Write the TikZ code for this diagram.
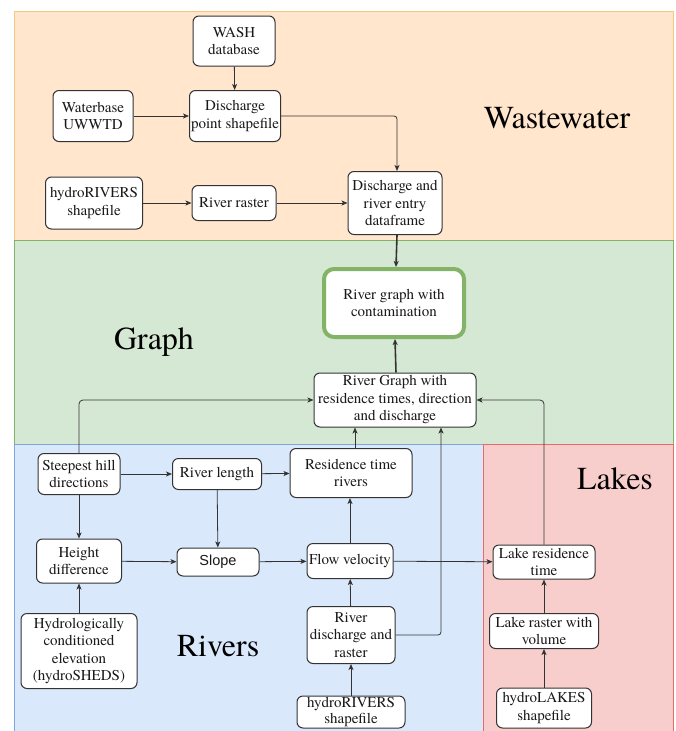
\documentclass[tikz,border=0pt]{standalone}
\usepackage{fontspec}
\setmainfont{texgyretermes}[Extension=.otf, UprightFont=*-regular, BoldFont=*-bold, ItalicFont=*-italic, BoldItalicFont=*-bolditalic]
\newfontfamily\arialfont{Liberation Sans}
\usetikzlibrary{arrows.meta}
\definecolor{wwfill}{HTML}{FFE6CC}
\definecolor{wwdraw}{HTML}{F5C77E}
\definecolor{grfill}{HTML}{D5E8D4}
\definecolor{grdraw}{HTML}{82B366}
\definecolor{rvfill}{HTML}{DAE8FC}
\definecolor{rvdraw}{HTML}{7EA6E0}
\definecolor{lkfill}{HTML}{F8CECC}
\definecolor{lkdraw}{HTML}{EA6B66}
\definecolor{linecol}{HTML}{333333}
\begin{document}
\begin{tikzpicture}[
	x=1pt, y=-1pt,
	box/.style={shape=rectangle, rounded corners=6pt, fill=white, draw=linecol, line width=1pt, align=center, inner sep=1pt, font=\fontsize{15}{17.5}\selectfont, text=black!90},
	bigbox/.style={box, draw=grdraw, line width=4pt, rounded corners=10pt},
	panel/.style={line width=0.8pt},
	biglabel/.style={anchor=base, font=\fontsize{32}{36}\selectfont},
	arr/.style={draw=linecol, line width=0.8pt, -{Stealth[length=6pt,width=5pt,inset=1.5pt]}},
	thickarr/.style={arr, line width=1.6pt},
]
\useasboundingbox (0,0) rectangle (676,731);
\fill[white] (0,0) rectangle (676,731);
\draw[panel, fill=wwfill, draw=wwdraw] (14,11) rectangle (673,240);
\draw[panel, fill=grfill, draw=grdraw] (14,240) rectangle (673,444);
\draw[panel, fill=rvfill, draw=rvdraw] (14,444) rectangle (483,735);
\draw[panel, fill=lkfill, draw=lkdraw] (483,444) rectangle (673,735);

\node[biglabel] (wwlabel) at (557,128) {Wastewater};
\node[biglabel] (grlabel) at (154,349) {Graph};
\node[biglabel] (lklabel) at (615,489) {Lakes};
\node[biglabel] (rvlabel) at (218,656) {Rivers};

\node[box, minimum width=82, minimum height=50] (wash) at (234,41) {WASH\\database};
\node[box, minimum width=80, minimum height=51] (waterbase) at (93,116) {Waterbase\\UWWTD};
\node[box, minimum width=91, minimum height=51] (dpoint) at (235,116) {Discharge\\point shapefile};
\node[box, minimum width=97, minimum height=52] (hrivtop) at (94,203) {hydroRIVERS\\shapefile};
\node[box, minimum width=84, minimum height=35] (rraster) at (234,203) {River raster};
\node[box, minimum width=94, minimum height=63] (dframe) at (395,203) {Discharge and\\river entry\\dataframe};
\node[bigbox, minimum width=140, minimum height=68] (contam) at (394,303) {River graph with\\contamination};
\node[box, minimum width=162, minimum height=54] (rgraph) at (395,400) {River Graph with\\residence times, direction\\and discharge};

\node[box, minimum width=82, minimum height=41] (steep) at (79,474) {Steepest hill\\directions};
\node[box, minimum width=89, minimum height=31] (rlength) at (217,474) {River length};
\node[box, minimum width=122, minimum height=49] (restime) at (351,473) {Residence time\\rivers};
\node[box, minimum width=85, minimum height=44] (height) at (79,561) {Height\\difference};
\node[box, minimum width=82, minimum height=28, font=\arialfont\fontsize{14.5}{17}\selectfont] (slope) at (218,562) {Slope};
\node[box, minimum width=86, minimum height=35] (flowv) at (350,561) {Flow velocity};
\node[box, minimum width=116, minimum height=75] (hydrocond) at (79,651) {Hydrologically\\conditioned\\elevation\\(hydroSHEDS)};
\node[box, minimum width=88, minimum height=57] (rdis) at (351,635) {River\\discharge and\\raster};
\node[box, minimum width=108, minimum height=32, font=\fontsize{15}{15.5}\selectfont] (hrivbot) at (351,712) {hydroRIVERS\\shapefile};
\node[box, minimum width=102, minimum height=34] (lakeres) at (544,562) {Lake residence\\time};
\node[box, minimum width=109, minimum height=35] (lakeraster) at (544,631) {Lake raster with\\volume};
\node[box, minimum width=95, minimum height=40] (hlakes) at (544,708) {hydroLAKES\\shapefile};

\draw[arr] (wash) -- (dpoint);
\draw[arr] (waterbase) -- (dpoint);
\draw[arr, rounded corners=3pt] (dpoint.east) -| ([xshift=2pt]dframe.north);
\draw[arr] (hrivtop) -- (rraster);
\draw[arr] (rraster) -- (dframe);
\draw[thickarr] ([xshift=2pt]dframe.south) -- ([xshift=2pt]contam.north);
\draw[thickarr] ([xshift=1pt]rgraph.north) -- ([xshift=1pt]contam.south);

\draw[arr, rounded corners=4pt] (steep.north) |- (rgraph.west);
\draw[arr, rounded corners=4pt] (lakeres.north) |- (rgraph.east);
\draw[arr, rounded corners=3pt] (rdis.east) -| ([xshift=46pt]rgraph.south);
\draw[arr] ([xshift=4pt]restime.north) -- ([xshift=4pt]restime.north |- rgraph.south);

\draw[arr] (steep) -- (rlength);
\draw[arr] (rlength) -- (restime);
\draw[arr] (steep) -- (height);
\draw[arr] (rlength) -- (slope);
\draw[arr] (height) -- (slope);
\draw[arr] (slope) -- (flowv);
\draw[arr] (flowv) -- (lakeres);
\draw[arr] (flowv.north) -- (flowv.north |- restime.south);
\draw[arr] (rdis) -- (flowv);
\draw[arr] (hrivbot) -- (rdis);
\draw[arr] (hydrocond) -- (height);
\draw[arr] (lakeraster) -- (lakeres);
\draw[arr] (hlakes) -- (lakeraster);
\end{tikzpicture}
\end{document}
